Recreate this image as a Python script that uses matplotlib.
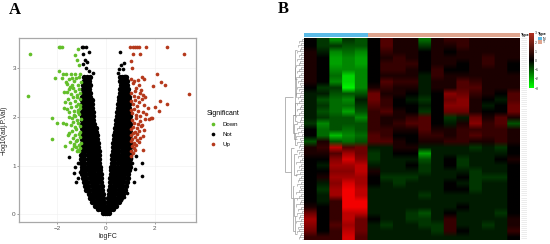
"""
plot.py
-------
Panel A: volcano plot of logFC against -log10(adj.P.Val).
Panel B: clustered expression heatmap with row dendrogram.
"""

import numpy as np
import matplotlib
matplotlib.use("Agg")
import matplotlib.pyplot as plt
from matplotlib.colors import LinearSegmentedColormap, ListedColormap

W, H = 550, 244

# ── Volcano data ──────────────────────────────────────────────────────────────
down_x = [-1.93, -1.87, -1.81, -1.15, -3.10, -1.26, -1.16, -1.08, -1.93, -1.74, -1.63, -2.08, -1.80, -1.44,
          -1.26, -1.05, -3.20, -2.19, -1.99, -1.74, -2.18, -1.67, -1.62, -1.58, -1.52, -1.45, -1.38, -1.30,
          -1.22, -1.15, -1.08, -1.03, -1.60, -1.50, -1.42, -1.33, -1.24, -1.17, -1.10, -1.04, -1.66, -1.55,
          -1.47, -1.36, -1.27, -1.19, -1.12, -1.05, -1.72, -1.58, -1.41, -1.31, -1.22, -1.14, -1.06, -1.52,
          -1.39, -1.28, -1.18, -1.09, -1.03, -1.61, -1.44, -1.34, -1.25, -1.13, -1.06, -1.49, -1.37, -1.21,
          -1.11, -1.04, -1.55, -1.33, -1.26, -1.16, -1.07, -1.46, -1.29, -1.20, -1.10, -1.03, -1.40, -1.23,
          -1.14, -1.05, -1.30, -1.18, -1.08, -1.26, -1.12, -1.04, -1.40, -1.70, -1.50]
down_y = [3.44, 3.44, 3.44, 3.39, 3.29, 3.27, 3.18, 3.07, 2.94, 2.88, 2.88, 2.80, 2.80, 2.88,
          2.88, 2.88, 2.43, 1.97, 1.87, 1.88, 1.54, 1.41, 2.72, 2.68, 2.78, 2.62, 2.81, 2.74,
          2.79, 2.66, 2.83, 2.72, 2.52, 2.57, 2.48, 2.60, 2.54, 2.46, 2.58, 2.50, 2.30, 2.37,
          2.28, 2.40, 2.33, 2.42, 2.27, 2.36, 2.18, 2.16, 2.21, 2.12, 2.23, 2.10, 2.19, 2.00,
          1.98, 2.04, 1.94, 2.06, 1.96, 1.86, 1.83, 1.90, 1.79, 1.87, 1.81, 1.68, 1.72, 1.75,
          1.65, 1.70, 1.62, 1.56, 1.63, 1.53, 1.58, 1.48, 1.45, 1.50, 1.43, 1.47, 1.35, 1.38,
          1.33, 1.36, 1.40, 1.31, 1.29, 2.02, 2.14, 2.25, 2.66, 2.52, 2.10]

up_x = [1.00, 1.11, 1.21, 1.30, 1.38, 1.66, 2.51, 3.19, 1.10, 1.42, 1.03, 1.07, 2.10, 1.48, 1.55, 1.34,
        2.27, 2.44, 1.93, 3.40, 2.23, 2.50, 2.04, 2.19, 1.89, 1.84, 1.52, 1.03, 1.10, 1.18, 1.26, 1.35,
        1.44, 1.05, 1.14, 1.22, 1.31, 1.40, 1.52, 1.62, 1.04, 1.12, 1.20, 1.29, 1.37, 1.47, 1.58, 1.72,
        1.02, 1.09, 1.17, 1.25, 1.33, 1.42, 1.54, 1.66, 1.78, 1.06, 1.15, 1.23, 1.32, 1.41, 1.50, 1.60,
        1.03, 1.11, 1.19, 1.28, 1.37, 1.46, 1.58, 1.05, 1.13, 1.21, 1.30, 1.40, 1.52, 1.02, 1.09, 1.18,
        1.27, 1.36, 1.07, 1.16, 1.25, 1.03, 1.12, 1.05, 1.22, 1.14]
up_y = [3.44, 3.44, 3.44, 3.44, 3.44, 3.44, 3.44, 3.29, 3.29, 3.29, 3.15, 3.00, 2.89, 2.82, 2.77, 2.76,
        2.72, 2.66, 2.64, 2.47, 2.32, 2.27, 2.21, 2.13, 1.97, 1.97, 1.32, 2.78, 2.70, 2.74, 2.60, 2.66,
        2.56, 2.50, 2.44, 2.54, 2.42, 2.50, 2.46, 2.40, 2.32, 2.26, 2.35, 2.22, 2.30, 2.36, 2.24, 2.18,
        2.14, 2.08, 2.16, 2.04, 2.12, 2.02, 2.10, 2.06, 1.96, 1.94, 1.88, 1.98, 1.86, 1.92, 1.84, 1.96,
        1.76, 1.80, 1.70, 1.78, 1.72, 1.82, 1.74, 1.62, 1.66, 1.58, 1.64, 1.56, 1.60, 1.50, 1.54, 1.46,
        1.52, 1.48, 1.40, 1.36, 1.42, 1.30, 1.26, 1.20, 1.33, 1.44]

# scattered "Not" points around the dense V
not_sparse_x = [-0.99, -0.92, -0.81, -0.95, -0.67, -0.85, -0.75, -0.92, -0.81, -0.67, -0.50, 0.50, 0.62, 0.72,
                0.60, 0.80, 0.74, 0.55, -1.49, -1.30, -1.05, -1.22, -0.85, -1.12, 1.07, 1.48, 1.48, 1.15,
                0.76, 0.62, 0.86, 0.38, -1.12, -1.25, 1.25, 1.05, 1.22, -0.75, -0.62]
not_sparse_y = [3.44, 3.44, 3.44, 3.30, 3.33, 3.16, 3.12, 3.08, 3.00, 2.94, 2.90, 2.90, 3.06, 2.98,
                3.33, 2.84, 3.10, 2.98, 1.18, 0.84, 0.86, 0.67, 0.64, 0.75, 1.05, 1.05, 0.79, 0.67,
                0.36, 0.29, 0.43, 0.29, 1.06, 0.98, 1.20, 1.15, 0.92, 0.48, 0.34]

# dense rows of the V, one x list per y level
not_rows_y = [0.02, 0.10, 0.18, 0.26, 0.34, 0.42, 0.50, 0.58, 0.66, 0.74, 0.82, 0.90, 0.98, 1.06, 1.14, 1.22, 1.30,
              1.38, 1.46, 1.54, 1.62, 1.70, 1.78, 1.86, 1.94, 2.02, 2.10, 2.18, 2.26, 2.34, 2.42, 2.50, 2.58,
              2.66, 2.74, 2.82]
not_rows_x = [
    [-0.12, -0.04, 0.04, 0.13],
    [-0.30, -0.20, -0.10, -0.03, 0.04, 0.11, 0.21, 0.30],
    [-0.44, -0.32, -0.20, -0.07, 0.06, 0.18, 0.31, 0.42],
    [-0.56, -0.44, -0.32, -0.20, -0.09, 0.08, 0.20, 0.32, 0.44, 0.54],
    [-0.63, -0.50, -0.37, -0.24, -0.11, 0.10, 0.23, 0.36, 0.49, 0.62],
    [-0.70, -0.57, -0.44, -0.31, -0.18, -0.12, 0.12, 0.20, 0.33, 0.46, 0.59, 0.70],
    [-0.80, -0.67, -0.54, -0.41, -0.28, -0.15, 0.14, 0.27, 0.40, 0.53, 0.66, 0.78],
    [-0.84, -0.71, -0.58, -0.45, -0.32, -0.17, 0.16, 0.29, 0.42, 0.55, 0.68, 0.82],
    [-0.88, -0.75, -0.62, -0.49, -0.36, -0.19, 0.18, 0.33, 0.46, 0.59, 0.72, 0.86],
    [-0.92, -0.79, -0.66, -0.53, -0.40, -0.27, -0.20, 0.19, 0.27, 0.38, 0.51, 0.64, 0.77, 0.90],
    [-0.96, -0.83, -0.70, -0.57, -0.44, -0.31, -0.21, 0.20, 0.31, 0.42, 0.55, 0.68, 0.81, 0.93],
    [-0.98, -0.85, -0.72, -0.59, -0.46, -0.33, -0.23, 0.22, 0.33, 0.46, 0.59, 0.72, 0.85, 0.96],
    [-0.99, -0.86, -0.73, -0.60, -0.47, -0.34, -0.24, 0.23, 0.35, 0.48, 0.61, 0.74, 0.87, 0.98],
    [-1.00, -0.87, -0.74, -0.61, -0.48, -0.35, -0.26, 0.25, 0.36, 0.49, 0.62, 0.75, 0.88, 0.99],
    [-1.00, -0.87, -0.74, -0.61, -0.48, -0.35, -0.27, 0.26, 0.37, 0.50, 0.63, 0.76, 0.89, 0.99],
    [-1.00, -0.87, -0.74, -0.61, -0.48, -0.37, -0.28, 0.27, 0.38, 0.51, 0.64, 0.77, 0.89, 0.99],
    [-0.99, -0.86, -0.73, -0.60, -0.49, -0.38, -0.29, 0.28, 0.39, 0.52, 0.65, 0.78, 0.90, 0.99],
    [-0.99, -0.86, -0.73, -0.60, -0.49, -0.39, -0.31, 0.30, 0.41, 0.53, 0.66, 0.79, 0.90, 0.99],
    [-0.99, -0.86, -0.73, -0.61, -0.50, -0.41, -0.32, 0.31, 0.42, 0.54, 0.67, 0.80, 0.91, 0.99],
    [-0.99, -0.86, -0.74, -0.62, -0.52, -0.42, -0.34, 0.33, 0.43, 0.55, 0.68, 0.80, 0.91, 0.99],
    [-0.99, -0.86, -0.74, -0.63, -0.53, -0.44, -0.36, 0.35, 0.45, 0.56, 0.68, 0.80, 0.91, 0.99],
    [-0.99, -0.87, -0.75, -0.64, -0.54, -0.45, -0.38, 0.37, 0.46, 0.57, 0.69, 0.81, 0.91, 0.99],
    [-0.99, -0.87, -0.75, -0.65, -0.55, -0.47, -0.40, 0.39, 0.48, 0.58, 0.70, 0.81, 0.91, 0.99],
    [-0.99, -0.87, -0.76, -0.66, -0.56, -0.48, 0.42, 0.50, 0.60, 0.71, 0.82, 0.92, 0.99],
    [-0.99, -0.88, -0.77, -0.67, -0.58, -0.50, 0.44, 0.52, 0.62, 0.72, 0.82, 0.92, 0.99],
    [-0.99, -0.88, -0.78, -0.68, -0.60, -0.52, 0.46, 0.54, 0.64, 0.74, 0.84, 0.93, 0.99],
    [-0.98, -0.88, -0.78, -0.69, -0.61, -0.54, 0.48, 0.56, 0.66, 0.76, 0.85, 0.94],
    [-0.98, -0.88, -0.79, -0.70, -0.62, -0.55, 0.50, 0.58, 0.68, 0.77, 0.86, 0.94],
    [-0.97, -0.87, -0.79, -0.70, -0.63, -0.57, 0.52, 0.60, 0.69, 0.78, 0.87, 0.95],
    [-0.96, -0.87, -0.78, -0.70, -0.63, -0.58, 0.54, 0.62, 0.70, 0.79, 0.88, 0.95],
    [-0.96, -0.86, -0.78, -0.71, -0.64, 0.56, 0.64, 0.72, 0.80, 0.89, 0.96],
    [-0.95, -0.85, -0.77, -0.70, -0.64, 0.58, 0.66, 0.74, 0.82, 0.90],
    [-0.94, -0.84, -0.76, -0.69, 0.60, 0.68, 0.76, 0.84, 0.92],
    [-0.92, -0.82, -0.74, -0.66, 0.62, 0.70, 0.78, 0.86],
    [-0.90, -0.78, -0.68, 0.60, 0.70, 0.80, 0.88],
    [-0.88, -0.76, -0.66, 0.58, 0.66, 0.76, 0.84],
]

x_ticks = [-2, 0, 2]
y_ticks = [0, 1, 2, 3]
sig_labels = ["Down", "Not", "Up"]
sig_colors = ["#63bf2a", "#000000", "#b5391c"]

# ── Heatmap data ──────────────────────────────────────────────────────────────
heat_values = np.array([
    [0, -2, -5, -2, -3, 0, 3, 1, 1, -4, 1, 2, 2, 1, 1, 1, 1],
    [0, -2, -2, -3, -3, 0, 3, 1, 1, -2, 1, 1, 2, 1, 1, 1, 1],
    [1, -1, -5, -4, -5, 0, 2, 1, 1, 0, 1, 0, 1, 1, 1, 1, 1],
    [1, 0, -6, -5, -6, 0, 1, 2, 1, 0, 1, 1, 1, 1, 2, 1, 1],
    [1, 0, -6, -5, -6, 0, 2, 2, 2, 0, 1, 1, 0, 1, 2, 1, 0],
    [1, 0, -5, -5, -5, 0, 2, 2, 1, 0, 2, 0, 0, 1, 1, 1, 0],
    [1, 0, -4, -8, -5, 0, 1, 1, 1, -1, 2, 1, 1, 1, 1, 1, 1],
    [1, 0, -5, -8, -5, 0, 3, 2, 2, -1, 1, 1, 3, 2, 1, 1, 1],
    [0, -2, -2, -9, -5, 1, 2, 1, 1, -1, 1, 1, 3, 3, 1, 1, 1],
    [-1, -1, -3, -3, -3, 4, 1, 1, 0, -1, 0, 5, 4, 2, 1, 0, 3],
    [-1, -3, -4, -5, -1, 4, 2, 0, -1, -2, 0, 4, 5, 1, 0, -1, 3],
    [-1, -2, -4, -4, -2, 3, 2, 0, 0, -1, 0, 5, 5, 1, -1, 0, 4],
    [-1, -3, -4, -6, -3, 2, 3, 1, 0, -2, 0, 4, 4, 1, 0, 0, 4],
    [-1, -2, -3, -3, -5, 2, 1, 1, 2, 3, 0, -2, -1, 4, 1, 3, 1],
    [-2, -5, -3, -3, -3, 2, 1, 2, 3, 3, 0, -1, 1, 5, 2, 3, -3],
    [0, -4, -3, -4, -3, 2, 2, 1, 1, 3, 1, 1, 2, 2, 2, 2, 1],
    [0, -4, -7, -5, -4, 3, 2, 0, 0, 2, 2, 1, 2, 3, 2, 2, 1],
    [-3, 1, -3, -4, -3, 3, 3, 1, 0, 1, 1, 2, 2, 1, 1, 2, 1],
    [1, 2, 7, 3, 4, -1, -1, 1, 1, -1, -1, -1, -1, -2, -1, -2, 0],
    [1, 1, 3, 6, 4, -2, -1, 0, 0, -6, -1, -1, -1, -1, -1, -1, 0],
    [0, 0, 5, 8, 5, -2, -1, -1, -1, -3, -1, 0, -2, -1, -1, 0, 1],
    [0, -1, 6, 6, 7, -1, -1, -1, 0, -2, -1, 0, -2, -1, -1, -1, 0],
    [0, 0, 5, 5, 7, 1, -1, -1, -1, -2, -1, -1, -1, -2, -1, -1, 0],
    [0, 1, 6, 6, 6, 0, -2, -2, -2, -1, -1, -1, 0, -2, -2, -2, 0],
    [0, -1, 5, 8, 6, 0, -1, -2, -1, -1, -1, 0, -1, -2, -1, -1, 0],
    [0, -2, 6, 9, 7, -1, -1, -1, -1, -1, -1, 0, 0, -2, -1, -1, 0],
    [0, -1, 6, 9, 7, -1, -1, -1, -1, -2, -1, -1, -1, -1, -1, -1, 0],
    [0, -1, 2, 9, 9, -1, -1, -1, -1, -1, -1, -1, -1, -1, -1, -1, 0],
    [1, 0, 2, 9, 9, -1, -1, -1, -1, -1, -1, -1, 0, -1, -1, -1, 0],
    [4, 0, 2, 7, 7, -1, -1, -1, -2, -3, -1, 0, -1, -1, -1, -2, 0],
    [6, 0, 2, 7, 4, 0, -1, -1, -2, -2, -1, 2, -1, -1, -1, -1, 1],
    [5, 0, 3, 6, 4, -1, -2, -1, -1, -2, -2, 2, -1, -1, -2, -1, 1],
    [4, 0, 2, 7, 4, -1, -1, -1, -1, -1, -2, 2, 0, -1, -1, -1, 2],
    [2, 2, 2, 8, 3, -1, -1, -1, -1, -1, -1, -1, -1, -1, -1, -1, 0],
])
type_codes = [0] * 5 + [1] * 12
type_labels = ["N", "T"]
type_colors = ["#5cbbe6", "#dfa58f"]
bar_ticks = [3, 2, 1, 0, -1, -2, -3]

# leaf depth of the fine dendrogram comb, 0 at the heatmap edge
leaf_depth = [0.14, 0.26, 0.18, 0.34, 0.20, 0.24, 0.40, 0.18, 0.28, 0.16, 0.36, 0.22, 0.30, 0.44, 0.18, 0.26, 0.38, 0.16,
              0.28, 0.42, 0.20, 0.32, 0.24, 0.16, 0.38, 0.26, 0.18, 0.46, 0.22, 0.34, 0.16, 0.28, 0.40, 0.20, 0.24,
              0.36, 0.16, 0.30, 0.44, 0.18, 0.24, 0.38, 0.16, 0.26, 0.40, 0.20, 0.32, 0.14, 0.46, 0.24, 0.18, 0.36,
              0.22, 0.28, 0.16, 0.38, 0.26, 0.20, 0.32, 0.14, 0.24, 0.42, 0.18, 0.30, 0.16, 0.36, 0.22, 0.44, 0.18,
              0.26, 0.34, 0.16, 0.40, 0.24, 0.20, 0.30, 0.46, 0.16, 0.28, 0.36, 0.18, 0.24, 0.42, 0.20, 0.32, 0.14,
              0.38, 0.22, 0.28, 0.16, 0.44, 0.24, 0.18, 0.34, 0.26, 0.40, 0.16, 0.22, 0.30, 0.14]
# coarse merges: row of child a, row of child b, depth of parent, depth of a, depth of b
merge_row_a = [10.0, 5.0, 13.0, 18.5, 25.0, 2.0, 7.0, 11.0, 14.5, 19.5, 27.0, 30.0, 16.0]
merge_row_b = [22.6, 13.0, 16.0, 27.0, 32.5, 7.0, 10.0, 14.0, 17.0, 23.0, 30.0, 33.0, 18.0]
merge_depth = [1.00, 0.50, 0.58, 0.72, 0.62, 0.48, 0.46, 0.50, 0.52, 0.56, 0.54, 0.50, 0.48]
merge_depth_a = [0.62, 0.48, 0.50, 0.56, 0.54, 0.36, 0.38, 0.36, 0.38, 0.40, 0.38, 0.36, 0.36]
merge_depth_b = [0.72, 0.58, 0.48, 0.62, 0.50, 0.46, 0.36, 0.38, 0.36, 0.38, 0.50, 0.38, 0.38]


def px_axes(fig, left, top, right, bottom):
    return fig.add_axes([left / W, 1 - bottom / H, (right - left) / W, (bottom - top) / H])


def draw_volcano(fig):
    ax = px_axes(fig, 19.3, 38.3, 196, 222.3)
    rows_x = np.concatenate(not_rows_x)
    rows_y = np.concatenate([[y] * len(xs) for y, xs in zip(not_rows_y, not_rows_x)])
    size = 7
    # marker just wider than the lattice diagonal so the dense V closes up
    ax.scatter(rows_x, rows_y, s=15, c=sig_colors[1], lw=0, zorder=3)
    sparse = ax.scatter(not_sparse_x, not_sparse_y, s=size, c=sig_colors[1], lw=0, zorder=3)
    down = ax.scatter(down_x, down_y, s=size, c=sig_colors[0], lw=0, zorder=3)
    up = ax.scatter(up_x, up_y, s=size, c=sig_colors[2], lw=0, zorder=3)

    ax.set_xlim(-3.54, 3.70)
    ax.set_ylim(-0.165, 3.616)
    ax.set_xticks(x_ticks)
    ax.set_yticks(y_ticks)
    ax.set_xticklabels(["\u22122", "0", "2"])
    ax.grid(color="#f0f0f0", lw=0.4)
    ax.set_axisbelow(True)
    ax.tick_params(labelsize=4.6, length=1.5, width=0.4, pad=1, colors="#555555")
    for spine in ax.spines.values():
        spine.set_color("#a8a8a8")
        spine.set_linewidth(0.9)
    ax.set_xlabel("logFC", fontsize=5, labelpad=1.8, color="#222222")
    ax.set_ylabel("\u2212log10(adj.P.Val)", fontsize=4.8, color="#222222")
    ax.yaxis.set_label_coords(-0.064, 0.5)

    leg = fig.legend([down, sparse, up], sig_labels, title="Significant", frameon=False, fontsize=4.4,
                     title_fontsize=5, loc="upper left", bbox_to_anchor=(206.5 / W, 1 - 110 / H),
                     labelspacing=0.75, handletextpad=0.55, borderpad=0, borderaxespad=0, markerscale=1.0)
    leg._legend_box.align = "left"


def draw_dendrogram(ax):
    n_rows = heat_values.shape[0]
    leaf_rows = np.arange(len(leaf_depth)) * n_rows / len(leaf_depth) + 0.15
    gray = "#8c8c8c"
    ax.hlines(leaf_rows, 0, leaf_depth, color=gray, lw=0.4)
    ax.vlines(leaf_depth[:-1], leaf_rows[:-1], leaf_rows[1:], color=gray, lw=0.4)
    ax.vlines(merge_depth, merge_row_a, merge_row_b, color=gray, lw=0.45)
    ax.hlines(merge_row_a, merge_depth_a, merge_depth, color=gray, lw=0.45)
    ax.hlines(merge_row_b, merge_depth_b, merge_depth, color=gray, lw=0.45)
    ax.set_xlim(1.02, 0)
    ax.set_ylim(n_rows, 0)
    ax.axis("off")


def draw_heatmap(fig):
    left, right, top, bottom = 304.3, 520, 37.7, 240
    cmap = LinearSegmentedColormap.from_list("gbr", ["#00ff00", "#000000", "#ff0000"])
    key_cmap = LinearSegmentedColormap.from_list("key", ["#00ff00", "#000000", "#b03020"])

    # repeat columns so the smoothing only softens rows, column edges stay crisp
    ax = px_axes(fig, left, top, right, bottom)
    ax.imshow(np.repeat(heat_values, 12, axis=1), aspect="auto", cmap=cmap, vmin=-9.5, vmax=9.5,
              interpolation="bilinear")
    ax.axis("off")

    bar = px_axes(fig, left, 33, right, 37.5)
    bar.imshow([type_codes], aspect="auto", cmap=ListedColormap(type_colors), interpolation="nearest")
    bar.axis("off")

    dendro = px_axes(fig, 285, top, left, bottom)
    draw_dendrogram(dendro)

    # faint row label column right of the heatmap
    labels = px_axes(fig, 521, top, 527, bottom)
    labels.hlines(np.arange(len(leaf_depth)), 0, 1, color="#e4e4e4", lw=0.5)
    labels.set_xlim(0, 1)
    labels.set_ylim(len(leaf_depth), 0)
    labels.axis("off")

    # colour key
    key = px_axes(fig, 529, 33, 534, 88)
    key.imshow(np.linspace(3, -3, 64)[:, None], aspect="auto", cmap=key_cmap, vmin=-3, vmax=3, extent=[0, 1, -3, 3])
    key.set_xticks([])
    key.yaxis.tick_right()
    key.set_yticks(bar_ticks)
    key.tick_params(labelsize=2.5, length=0, pad=0.8, colors="#333333")
    for spine in key.spines.values():
        spine.set_visible(False)

    fig.text(521 / W, 1 - 35 / H, "Type", fontsize=2.8, weight="bold", va="center")
    fig.text(538 / W, 1 - 34.5 / H, "Type", fontsize=2.8, weight="bold", va="center")
    type_key = px_axes(fig, 538, 36.5, 542, 44)
    type_key.imshow([[0], [1]], aspect="auto", cmap=ListedColormap(type_colors))
    type_key.axis("off")
    for label, y in zip(type_labels, [38.5, 42]):
        fig.text(543 / W, 1 - y / H, label, fontsize=2.5, va="center")


if __name__ == "__main__":
    plt.rcParams["font.family"] = ["Liberation Sans", "DejaVu Sans"]
    fig = plt.figure(figsize=(W / 100, H / 100), dpi=100)

    draw_volcano(fig)
    draw_heatmap(fig)

    fig.text(9 / W, 1 - 10 / H, "A", fontsize=12, weight="bold", family="Liberation Serif", va="center")
    fig.text(278 / W, 1 - 9 / H, "B", fontsize=12, weight="bold", family="Liberation Serif", va="center")

    fig.savefig("out.png", dpi=100)
    plt.close(fig)
